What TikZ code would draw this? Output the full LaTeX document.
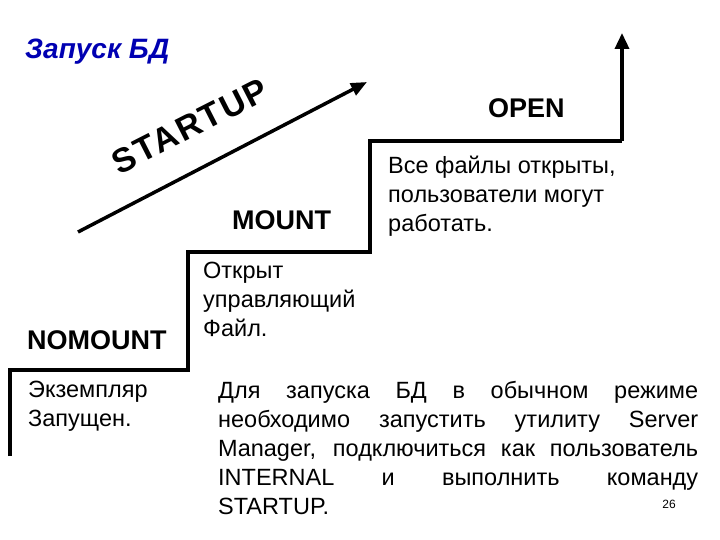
\documentclass[tikz,border=0pt]{standalone}
\usepackage{fontspec}
\setmainfont{Liberation Sans}
\newfontfamily\wide[LetterSpace=6]{Liberation Sans}
\usetikzlibrary{arrows.meta}
\newcommand\jline[1]{\makebox[480pt][s]{#1}}
\begin{document}
\begin{tikzpicture}[x=1pt,y=-1pt,
  lbl/.style={font=\fontsize{27}{30}\selectfont\bfseries, inner sep=0},
  txt/.style={font=\fontsize{23.5}{29}\selectfont, align=left, anchor=north west, inner sep=0},
  stair/.style={line width=3.5pt, line join=miter}]
\useasboundingbox (0,0) rectangle (720,540);
\node[font=\fontsize{28}{30}\selectfont\bfseries\itshape, text=blue!70!black, anchor=west, inner sep=0] (title) at (25,52) {Запуск БД};
\coordinate (s0) at (10,456);
\coordinate (s1) at (10,370);
\coordinate (s2) at (188,370);
\coordinate (s3) at (188,252);
\coordinate (s4) at (370,252);
\coordinate (s5) at (370,141);
\coordinate (s6) at (622,141);
\coordinate (s7) at (622,33);
\draw[stair] (s0) -- (s1) -- (s2) -- (s3) -- (s4) -- (s5) -- (s6);
\draw[line width=3.5pt, -{Triangle[length=16pt,width=14pt]}] (s6) -- (s7);
\coordinate (a0) at (78,232);
\coordinate (a1) at (367,82);
\draw[line width=3.5pt, -{Triangle[length=16pt,width=13pt]}] (a0) -- (a1);
\node[inner sep=0, font=\wide\fontsize{34}{38}\selectfont\bfseries, rotate=27] (startup) at (190,126) {STARTUP};
\node[lbl, anchor=west] (nomount) at (27,340) {NOMOUNT};
\node[lbl, anchor=west] (mount) at (232,220) {MOUNT};
\node[lbl, anchor=west] (open) at (488,108) {OPEN};
\node[txt] (t1) at (28,381) {Экземпляр\\Запущен.};
\node[txt] (t2) at (203,262) {Открыт\\управляющий\\Файл.};
\node[txt] (t3) at (388,156) {Все файлы открыты,\\пользователи могут\\работать.};
\node[txt] (t4) at (218,381) {\jline{Для запуска БД в обычном режиме}\\\jline{необходимо запустить утилиту Server}\\\jline{Manager, подключиться как пользователь}\\\jline{INTERNAL и выполнить команду}\\STARTUP.};
\node[font=\fontsize{12}{14}\selectfont, inner sep=0] (num) at (669,504) {26};
\end{tikzpicture}
\end{document}
